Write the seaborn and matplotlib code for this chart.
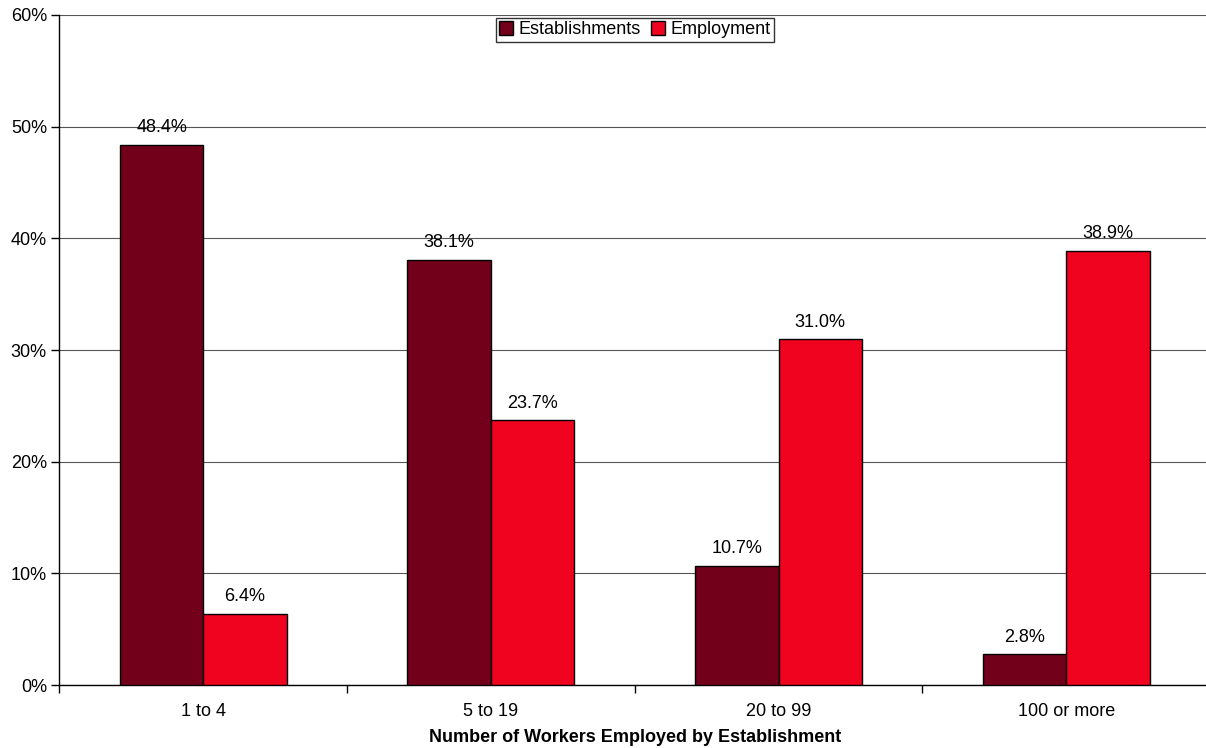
import matplotlib
matplotlib.use("Agg")
import matplotlib.pyplot as plt
import seaborn as sns
import pandas as pd
import numpy as np
from matplotlib.ticker import FixedLocator, PercentFormatter

categories = ["1 to 4", "5 to 19", "20 to 99", "100 or more"]
establishments = [48.4, 38.1, 10.7, 2.8]
employment = [6.4, 23.7, 31.0, 38.9]
series_names = ["Establishments", "Employment"]
colors = ["#72001A", "#F0031E"]

df = pd.DataFrame({
    "cat": categories * 2,
    "val": establishments + employment,
    "series": [series_names[0]] * 4 + [series_names[1]] * 4,
})

sns.set_style("white")
plt.rcParams["font.family"] = ["Liberation Sans", "DejaVu Sans"]
plt.rcParams["text.color"] = "black"
plt.rcParams["xtick.color"] = "black"
plt.rcParams["ytick.color"] = "black"
plt.rcParams["axes.labelcolor"] = "black"

fig = plt.figure(figsize=(12.06, 7.48), dpi=100)
ax = fig.add_axes([0.0493, 0.084, 0.954, 0.896])

sns.barplot(data=df, x="cat", y="val", hue="series", palette=colors,
            width=0.58, gap=0, edgecolor="black", linewidth=1.0,
            saturation=1, ax=ax, zorder=3)

ax.set_ylim(0, 60)
ax.set_xlim(-0.5, 3.5)
ax.set_yticks(np.arange(0, 61, 10))
ax.yaxis.set_major_formatter(PercentFormatter(decimals=0))
ax.grid(axis="y", color="#555555", linewidth=0.8, zorder=0)
ax.set_axisbelow(True)

for s in ["top", "right"]:
    ax.spines[s].set_visible(False)
ax.spines["left"].set_color("black")
ax.spines["bottom"].set_color("black")
ax.spines["left"].set_linewidth(1.0)
ax.spines["bottom"].set_linewidth(1.0)

ax.tick_params(axis="y", which="major", left=True, length=6, width=1, color="black",
               labelsize=13, pad=3)
ax.tick_params(axis="x", which="major", bottom=False, length=0, labelsize=13, pad=13)
ax.xaxis.set_minor_locator(FixedLocator([-0.5, 0.5, 1.5, 2.5]))
ax.tick_params(axis="x", which="minor", bottom=True, length=6, width=1, color="black")

for cont in ax.containers:
    ax.bar_label(cont, labels=[f"{v:.1f}%" for v in cont.datavalues],
                 padding=6, fontsize=13)

ax.set_xlabel("Number of Workers Employed by Establishment", fontsize=13,
              fontweight="bold", labelpad=6)
ax.set_ylabel("")

leg = ax.legend(loc="upper center", bbox_to_anchor=(0.5, 1.0), ncol=2,
                frameon=True, fancybox=False, fontsize=13, handlelength=0.75,
                handleheight=0.75, handletextpad=0.3, columnspacing=0.6,
                borderpad=0.2, borderaxespad=0.15)
leg.get_frame().set_edgecolor("black")
leg.get_frame().set_linewidth(1.0)

fig.savefig("out.png", dpi=100)
